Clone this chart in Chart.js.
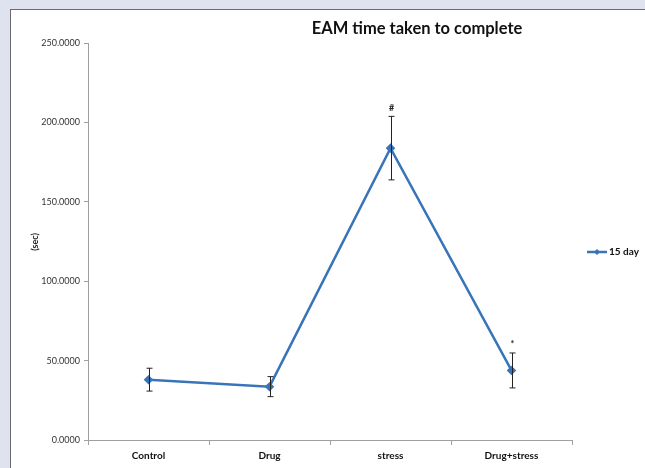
<!DOCTYPE html>
<html>
<head>
<meta charset="utf-8">
<script src="https://cdn.jsdelivr.net/npm/chart.js@4/dist/chart.umd.min.js"></script>
<style>
  body { margin: 0; background: #dfe3f0; width: 645px; height: 468px; overflow: hidden; }
  #box { position: absolute; left: 10px; top: 9px; width: 634px; height: 458px;
         background: #fff; border-left: 1px solid #6b6b6b; border-top: 1px solid #6b6b6b; }
  canvas { display: block; }
</style>
</head>
<body>
<div id="box"><canvas id="chart" width="634" height="458"></canvas></div>
<script>
// data
const categories = ['Control', 'Drug', 'stress', 'Drug+stress'];
const means = [38.0, 33.6, 183.8, 43.8];
const errors = [7.2, 6.3, 20.0, 11.0];
const marks = ['', '', '#', '*'];
const seriesName = '15 day';

const lineColor = '#3874b8';

const extras = {
  id: 'extras',
  afterDatasetsDraw(chart) {
    const ctx = chart.ctx;
    const x = chart.scales.x, y = chart.scales.y;
    ctx.save();
    // error bars
    ctx.strokeStyle = '#222';
    ctx.lineWidth = 1;
    means.forEach(function (m, i) {
      const px = Math.round(x.getPixelForValue(i)) + 0.5;
      const top = y.getPixelForValue(m + errors[i]);
      const bot = y.getPixelForValue(m - errors[i]);
      ctx.beginPath();
      ctx.moveTo(px, top); ctx.lineTo(px, bot);
      ctx.moveTo(px - 3, top); ctx.lineTo(px + 3, top);
      ctx.moveTo(px - 3, bot); ctx.lineTo(px + 3, bot);
      ctx.stroke();
      if (marks[i]) {
        ctx.fillStyle = '#222';
        ctx.font = 'bold 9px Lato';
        ctx.textAlign = 'center';
        ctx.textBaseline = 'bottom';
        ctx.fillText(marks[i], px, top - 4);
      }
    });
    // title
    ctx.fillStyle = '#111';
    ctx.font = 'bold 16.5px Lato';
    ctx.textAlign = 'center';
    ctx.textBaseline = 'middle';
    ctx.fillText('EAM time taken to complete', 406, 19);
    // y axis title
    ctx.save();
    ctx.translate(24, 232);
    ctx.rotate(-Math.PI / 2);
    ctx.font = 'bold 9px Lato';
    ctx.fillStyle = '#222';
    ctx.fillText('(sec)', 0, 0);
    ctx.restore();
    // legend
    ctx.strokeStyle = lineColor;
    ctx.lineWidth = 2.5;
    ctx.beginPath();
    ctx.moveTo(576, 242); ctx.lineTo(596, 242);
    ctx.stroke();
    ctx.fillStyle = lineColor;
    ctx.beginPath();
    ctx.moveTo(586, 239); ctx.lineTo(589, 242); ctx.lineTo(586, 245); ctx.lineTo(583, 242);
    ctx.closePath(); ctx.fill();
    ctx.fillStyle = '#111';
    ctx.font = 'bold 10px Lato';
    ctx.textAlign = 'left';
    ctx.fillText(seriesName, 598, 242);
    ctx.restore();
  }
};

new Chart(document.getElementById('chart').getContext('2d'), {
  type: 'line',
  data: {
    labels: categories,
    datasets: [{
      label: seriesName,
      data: means,
      borderColor: lineColor,
      backgroundColor: lineColor,
      borderWidth: 2.5,
      pointStyle: 'rectRot',
      pointRadius: 3,
      tension: 0
    }]
  },
  options: {
    responsive: false,
    animation: false,
    layout: { padding: { left: 0, top: 33, right: 73, bottom: 0 } },
    plugins: { legend: { display: false }, title: { display: false }, tooltip: { enabled: false } },
    scales: {
      y: {
        min: 0, max: 250,
        afterFit(s) { s.width = 77; },
        border: { color: '#a0a0a0', width: 1 },
        grid: { drawOnChartArea: false, tickLength: 4, color: '#a0a0a0' },
        ticks: {
          stepSize: 50,
          padding: 4,
          color: '#333',
          font: { family: 'Lato', size: 9 },
          callback: function (v) { return v.toFixed(4); }
        }
      },
      x: {
        offset: true,
        afterFit(s) { s.height = 28; },
        border: { color: '#a0a0a0', width: 1 },
        grid: { offset: true, drawOnChartArea: false, tickLength: 5, color: '#a0a0a0' },
        ticks: {
          padding: 5,
          color: '#111',
          font: { family: 'Lato', size: 10, weight: 'bold' }
        }
      }
    }
  },
  plugins: [extras]
});
</script>
</body>
</html>
